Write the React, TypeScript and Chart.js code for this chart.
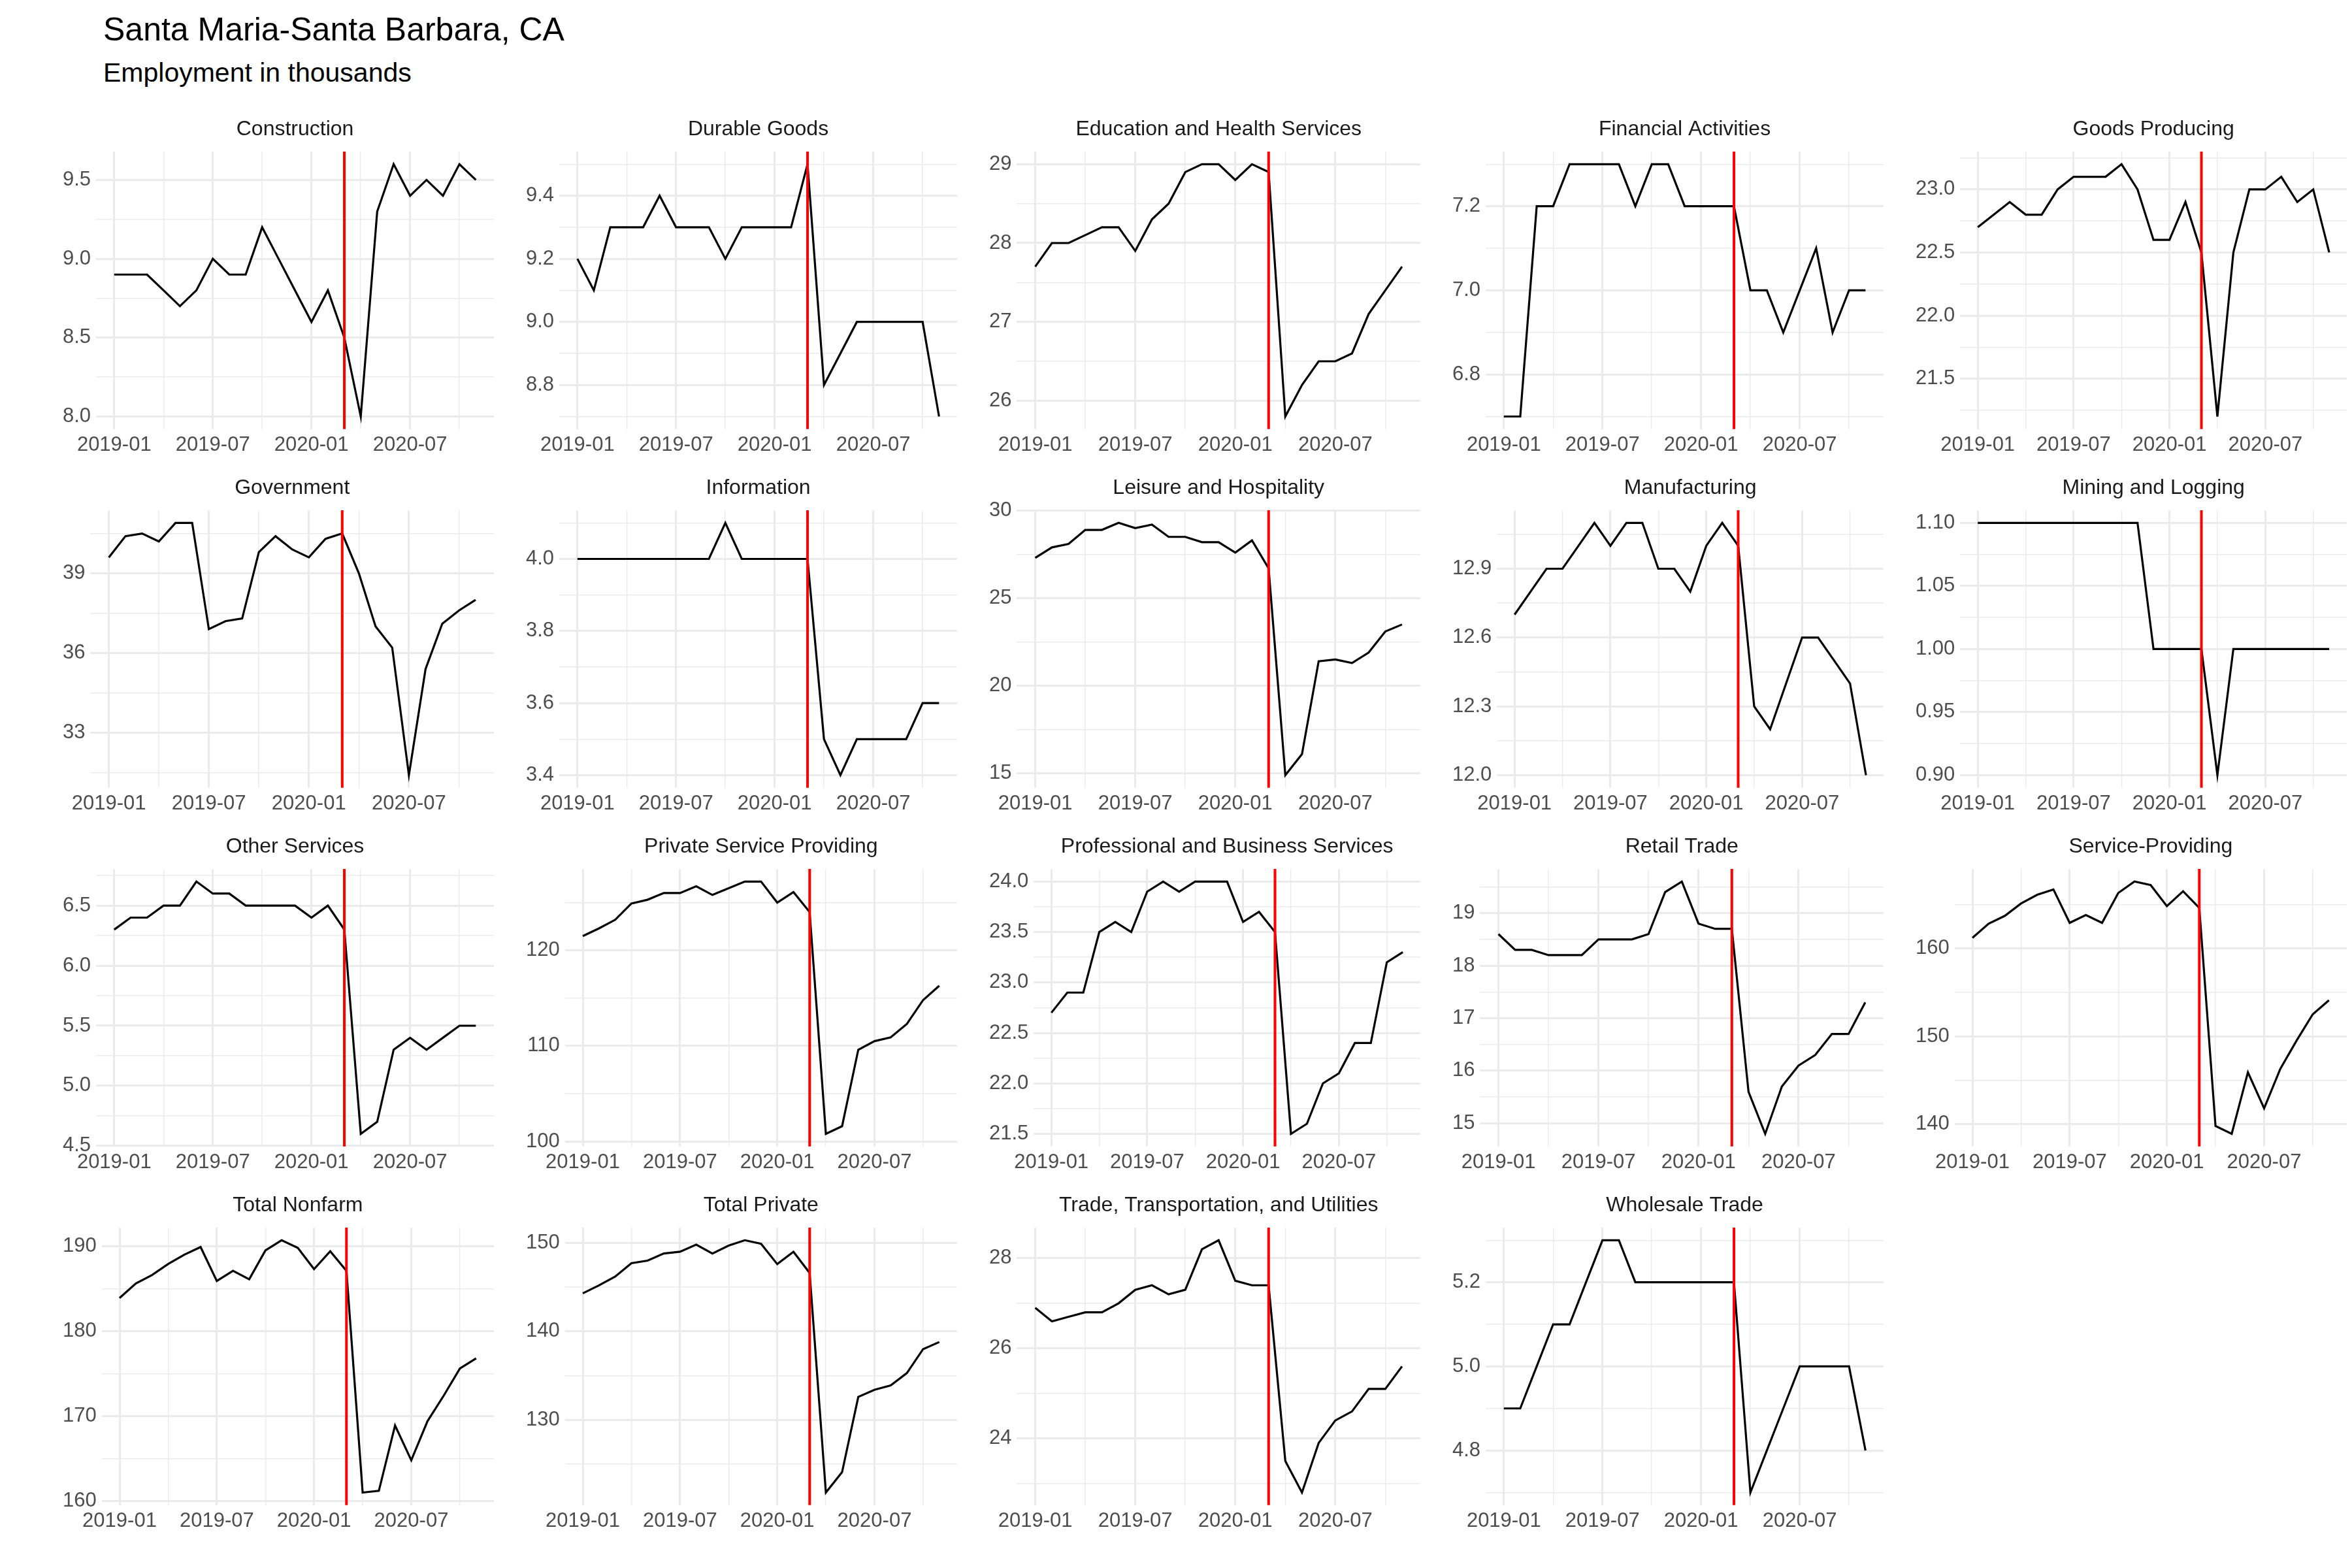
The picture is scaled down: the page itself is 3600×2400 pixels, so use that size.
import React, { useEffect, useRef } from 'react';
import { Chart, registerables } from 'chart.js';

Chart.register(...registerables);

// months 2019-01 .. 2020-11 (index 0..22)
const monthLabels = ['2019-01', '2019-07', '2020-01', '2020-07'];
const shockIndex = 14; // 2020-03

const panelNames = [
  'Construction', 'Durable Goods', 'Education and Health Services', 'Financial Activities', 'Goods Producing',
  'Government', 'Information', 'Leisure and Hospitality', 'Manufacturing', 'Mining and Logging',
  'Other Services', 'Private Service Providing', 'Professional and Business Services', 'Retail Trade', 'Service-Providing',
  'Total Nonfarm', 'Total Private', 'Trade, Transportation, and Utilities', 'Wholesale Trade',
];

const construction = [8.9, 8.9, 8.9, 8.8, 8.7, 8.8, 9.0, 8.9, 8.9, 9.2, 9.0, 8.8, 8.6, 8.8, 8.5, 8.0, 9.3, 9.6, 9.4, 9.5, 9.4, 9.6, 9.5];
const durableGoods = [9.2, 9.1, 9.3, 9.3, 9.3, 9.4, 9.3, 9.3, 9.3, 9.2, 9.3, 9.3, 9.3, 9.3, 9.5, 8.8, 8.9, 9.0, 9.0, 9.0, 9.0, 9.0, 8.7];
const education = [27.7, 28.0, 28.0, 28.1, 28.2, 28.2, 27.9, 28.3, 28.5, 28.9, 29.0, 29.0, 28.8, 29.0, 28.9, 25.8, 26.2, 26.5, 26.5, 26.6, 27.1, 27.4, 27.7];
const financial = [6.7, 6.7, 7.2, 7.2, 7.3, 7.3, 7.3, 7.3, 7.2, 7.3, 7.3, 7.2, 7.2, 7.2, 7.2, 7.0, 7.0, 6.9, 7.0, 7.1, 6.9, 7.0, 7.0];
const goodsProducing = [22.7, 22.8, 22.9, 22.8, 22.8, 23.0, 23.1, 23.1, 23.1, 23.2, 23.0, 22.6, 22.6, 22.9, 22.5, 21.2, 22.5, 23.0, 23.0, 23.1, 22.9, 23.0, 22.5];
const government = [39.6, 40.4, 40.5, 40.2, 40.9, 40.9, 36.9, 37.2, 37.3, 39.8, 40.4, 39.9, 39.6, 40.3, 40.5, 39.0, 37.0, 36.2, 31.4, 35.4, 37.1, 37.6, 38.0];
const information = [4.0, 4.0, 4.0, 4.0, 4.0, 4.0, 4.0, 4.0, 4.0, 4.1, 4.0, 4.0, 4.0, 4.0, 4.0, 3.5, 3.4, 3.5, 3.5, 3.5, 3.5, 3.6, 3.6];
const leisure = [27.3, 27.9, 28.1, 28.9, 28.9, 29.3, 29.0, 29.2, 28.5, 28.5, 28.2, 28.2, 27.6, 28.3, 26.7, 14.9, 16.1, 21.4, 21.5, 21.3, 21.9, 23.1, 23.5];
const manufacturing = [12.7, 12.8, 12.9, 12.9, 13.0, 13.1, 13.0, 13.1, 13.1, 12.9, 12.9, 12.8, 13.0, 13.1, 13.0, 12.3, 12.2, 12.4, 12.6, 12.6, 12.5, 12.4, 12.0];
const mining = [1.1, 1.1, 1.1, 1.1, 1.1, 1.1, 1.1, 1.1, 1.1, 1.1, 1.1, 1.0, 1.0, 1.0, 1.0, 0.9, 1.0, 1.0, 1.0, 1.0, 1.0, 1.0, 1.0];
const otherServices = [6.3, 6.4, 6.4, 6.5, 6.5, 6.7, 6.6, 6.6, 6.5, 6.5, 6.5, 6.5, 6.4, 6.5, 6.3, 4.6, 4.7, 5.3, 5.4, 5.3, 5.4, 5.5, 5.5];
const privateService = [121.5, 122.3, 123.2, 124.9, 125.3, 126.0, 126.0, 126.7, 125.8, 126.5, 127.2, 127.2, 125.0, 126.1, 124.0, 100.8, 101.6, 109.6, 110.5, 110.9, 112.3, 114.8, 116.3];
const professional = [22.7, 22.9, 22.9, 23.5, 23.6, 23.5, 23.9, 24.0, 23.9, 24.0, 24.0, 24.0, 23.6, 23.7, 23.5, 21.5, 21.6, 22.0, 22.1, 22.4, 22.4, 23.2, 23.3];
const retail = [18.6, 18.3, 18.3, 18.2, 18.2, 18.2, 18.5, 18.5, 18.5, 18.6, 19.4, 19.6, 18.8, 18.7, 18.7, 15.6, 14.8, 15.7, 16.1, 16.3, 16.7, 16.7, 17.3];
const serviceProviding = [161.2, 162.8, 163.7, 165.1, 166.1, 166.7, 162.9, 163.8, 162.9, 166.3, 167.6, 167.2, 164.8, 166.5, 164.6, 139.8, 138.9, 145.9, 141.8, 146.3, 149.5, 152.5, 154.1];
const totalNonfarm = [183.9, 185.6, 186.6, 187.9, 189.0, 189.9, 185.9, 187.1, 186.1, 189.5, 190.7, 189.8, 187.3, 189.4, 187.1, 161.0, 161.2, 168.9, 164.8, 169.4, 172.4, 175.6, 176.8];
const totalPrivate = [144.3, 145.2, 146.2, 147.7, 148.0, 148.8, 149.0, 149.8, 148.8, 149.7, 150.3, 149.9, 147.6, 149.0, 146.6, 121.8, 124.1, 132.6, 133.4, 133.9, 135.3, 138.0, 138.8];
const tradeTransport = [26.9, 26.6, 26.7, 26.8, 26.8, 27.0, 27.3, 27.4, 27.2, 27.3, 28.2, 28.4, 27.5, 27.4, 27.4, 23.5, 22.8, 23.9, 24.4, 24.6, 25.1, 25.1, 25.6];
const wholesale = [4.9, 4.9, 5.0, 5.1, 5.1, 5.2, 5.3, 5.3, 5.2, 5.2, 5.2, 5.2, 5.2, 5.2, 5.2, 4.7, 4.8, 4.9, 5.0, 5.0, 5.0, 5.0, 4.8];

const panelValues = [
  construction, durableGoods, education, financial, goodsProducing,
  government, information, leisure, manufacturing, mining,
  otherServices, privateService, professional, retail, serviceProviding,
  totalNonfarm, totalPrivate, tradeTransport, wholesale,
];
const panelSteps = [0.5, 0.2, 1, 0.2, 0.5, 3, 0.2, 5, 0.3, 0.05, 0.5, 10, 0.5, 1, 10, 10, 10, 2, 0.2];

const FONT = 'Liberation Sans, Arial, sans-serif';
const GRID = '#ebebeb';

const decimalsOf = (s: number) => (String(s).split('.')[1] || '').length;
const isMultiple = (v: number, s: number) => Math.abs(v / s - Math.round(v / s)) < 1e-6;

// red marker line + strip title centred on the plot area
const decorations = {
  id: 'decorations',
  afterDatasetsDraw(chart: any, _args: any, opts: any) {
    const { ctx, chartArea, scales } = chart;
    const x = scales.x.getPixelForValue(shockIndex);
    ctx.save();
    ctx.strokeStyle = '#ff0000';
    ctx.lineWidth = 4;
    ctx.beginPath();
    ctx.moveTo(x, chartArea.top);
    ctx.lineTo(x, chartArea.bottom);
    ctx.stroke();
    ctx.fillStyle = '#1a1a1a';
    ctx.font = `32px ${FONT}`;
    ctx.textAlign = 'center';
    ctx.textBaseline = 'middle';
    ctx.fillText(opts.text, (chartArea.left + chartArea.right) / 2, 22);
    ctx.restore();
  },
};

function Panel({ name, values, step }: { name: string; values: number[]; step: number }) {
  const ref = useRef<HTMLCanvasElement>(null);
  useEffect(() => {
    if (!ref.current) return;
    const lo = Math.min(...values);
    const hi = Math.max(...values);
    const pad = (hi - lo) * 0.05 || 0.05;
    const dec = decimalsOf(step);
    const half = step / 2;
    const chart = new Chart(ref.current, {
      type: 'line',
      data: {
        datasets: [{
          data: values.map((v, i) => ({ x: i, y: v })),
          borderColor: '#000000',
          borderWidth: 3.2,
          pointRadius: 0,
          tension: 0,
        }],
      },
      options: {
        animation: false,
        responsive: true,
        maintainAspectRatio: false,
        layout: { padding: { right: 8, top: 56 } },
        plugins: {
          legend: { display: false },
          tooltip: { enabled: false },
          title: { display: false },
          decorations: { text: name },
        } as any,
        scales: {
          x: {
            type: 'linear',
            min: -1.1,
            max: 23.1,
            afterBuildTicks: (axis: any) => {
              axis.ticks = [0, 3, 6, 9, 12, 15, 18, 21].map((v) => ({ value: v }));
            },
            ticks: {
              autoSkip: false,
              maxRotation: 0,
              color: '#4d4d4d',
              font: { family: FONT, size: 31 },
              padding: 6,
              callback: (v: any) => (v % 6 === 0 ? monthLabels[v / 6] : ''),
            },
            grid: {
              color: GRID,
              lineWidth: (c: any) => (c.tick && c.tick.value % 6 === 0 ? 3 : 1.5),
              drawTicks: false,
            },
            border: { display: false },
          },
          y: {
            type: 'linear',
            min: lo - pad,
            max: hi + pad,
            afterBuildTicks: (axis: any) => {
              const t = [];
              for (let v = Math.ceil((lo - pad) / half - 1e-9) * half; v <= hi + pad + 1e-9; v += half) {
                t.push({ value: Math.round(v * 1e6) / 1e6 });
              }
              axis.ticks = t;
            },
            ticks: {
              autoSkip: false,
              color: '#4d4d4d',
              font: { family: FONT, size: 31 },
              padding: 8,
              callback: (v: any) => (isMultiple(v, step) ? Number(v).toFixed(dec) : ''),
            },
            grid: {
              color: GRID,
              lineWidth: (c: any) => (c.tick && isMultiple(c.tick.value, step) ? 3 : 1.5),
              drawTicks: false,
            },
            border: { display: false },
          },
        },
      },
      plugins: [decorations],
    });
    return () => chart.destroy();
  }, [name, values, step]);
  return <canvas ref={ref} />;
}

export default function App() {
  return (
    <div style={{ position: 'absolute', left: 0, top: 0, width: 3600, height: 2400, background: '#fff', fontFamily: FONT }}>
      <div style={{ position: 'absolute', left: 158, top: 16, fontSize: 50, color: '#000' }}>Santa Maria-Santa Barbara, CA</div>
      <div style={{ position: 'absolute', left: 158, top: 88, fontSize: 41, color: '#000' }}>Employment in thousands</div>
      {panelNames.map((name, i) => {
        const col = i % 5;
        const row = Math.floor(i / 5);
        return (
          <div key={name} style={{ position: 'absolute', left: 88 + col * 709, top: 176 + row * 549, width: 676, height: 530 }}>
            <Panel name={name} values={panelValues[i]} step={panelSteps[i]} />
          </div>
        );
      })}
    </div>
  );
}
